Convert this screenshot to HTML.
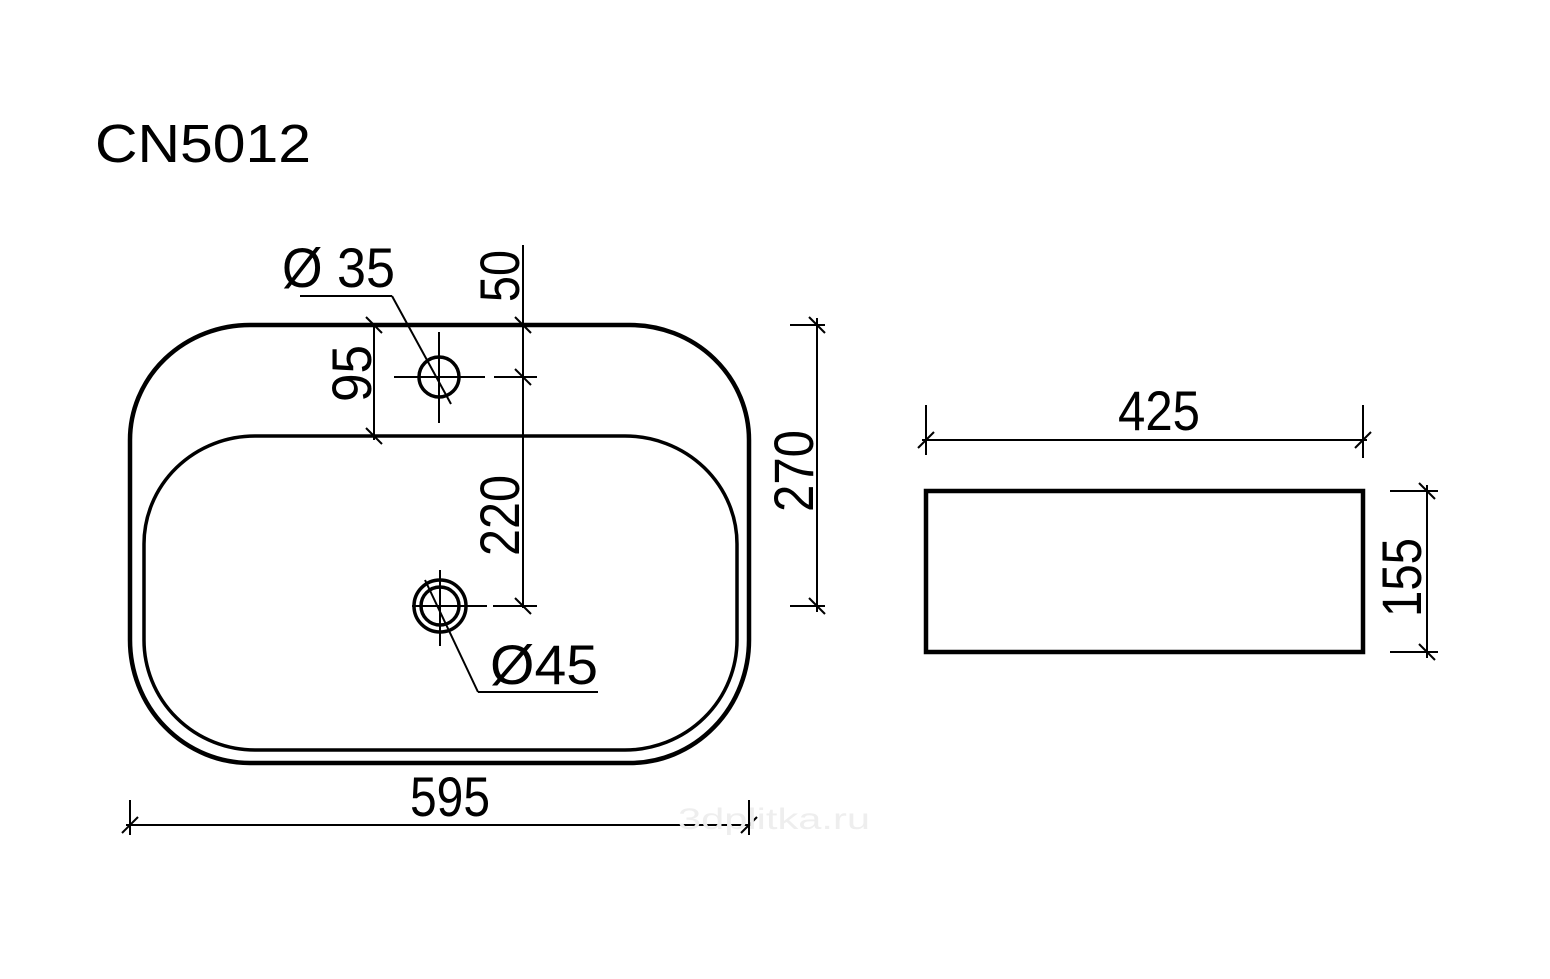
<!DOCTYPE html>
<html><head><meta charset="utf-8"><style>
html,body{margin:0;padding:0;background:#fff;}
svg{display:block}
text{font-family:"Liberation Sans Narrow","Liberation Sans",sans-serif;fill:#000;}
</style></head><body>
<svg width="1550" height="979" viewBox="0 0 1550 979" xmlns="http://www.w3.org/2000/svg">
<text x="95" y="162" font-size="54" style="font-family:'Liberation Sans',sans-serif" textLength="216" lengthAdjust="spacingAndGlyphs">CN5012</text>
<g fill="none" stroke="#000">
<path d="M250 325 H630 A119 115 0 0 1 749 440 V640 A119 123 0 0 1 630 763 H250 A120 123 0 0 1 130 640 V440 A120 115 0 0 1 250 325 Z" stroke-width="4.5"/>
<path d="M255 436 H625 A112 108 0 0 1 737 544 V640 A112 110 0 0 1 625 750 H255 A111 110 0 0 1 144 640 V544 A111 108 0 0 1 255 436 Z" stroke-width="3.5"/>
<circle cx="439" cy="377" r="20" stroke-width="3.5"/>
<circle cx="440" cy="606" r="26" stroke-width="3.5"/>
<circle cx="440" cy="606" r="19" stroke-width="3.5"/>
<g stroke-width="2">
<line x1="394" y1="377" x2="485" y2="377"/><line x1="494" y1="377" x2="537" y2="377"/>
<line x1="439" y1="332" x2="439" y2="423"/>
<line x1="412" y1="606" x2="487" y2="606"/><line x1="493" y1="606" x2="537" y2="606"/>
<line x1="440" y1="570" x2="440" y2="646"/>
<line x1="523" y1="245" x2="523" y2="608"/>
<line x1="374" y1="325" x2="374" y2="440"/>
<line x1="300" y1="296" x2="392" y2="296"/><line x1="392" y1="296" x2="451" y2="404"/>
<line x1="425" y1="580" x2="478" y2="692"/><line x1="478" y1="692" x2="598" y2="692"/>
<line x1="817" y1="318" x2="817" y2="612"/><line x1="790" y1="325" x2="825" y2="325"/><line x1="790" y1="606" x2="825" y2="606"/>
<line x1="126" y1="825" x2="753" y2="825"/><line x1="130" y1="800" x2="130" y2="835"/><line x1="749" y1="800" x2="749" y2="835"/>
<line x1="922" y1="440" x2="1367" y2="440"/><line x1="926" y1="405" x2="926" y2="455"/><line x1="1363" y1="405" x2="1363" y2="458"/>
<line x1="1427" y1="485" x2="1427" y2="658"/><line x1="1390" y1="491" x2="1438" y2="491"/><line x1="1390" y1="652" x2="1438" y2="652"/>
<line x1="515" y1="317" x2="531" y2="333"/><line x1="515" y1="369" x2="531" y2="385"/><line x1="515" y1="598" x2="531" y2="614"/>
<line x1="366" y1="317" x2="382" y2="333"/><line x1="366" y1="428" x2="382" y2="444"/>
<line x1="809" y1="317" x2="825" y2="333"/><line x1="809" y1="598" x2="825" y2="614"/>
<line x1="122" y1="833" x2="138" y2="817"/><line x1="741" y1="833" x2="757" y2="817"/>
<line x1="918" y1="448" x2="934" y2="432"/><line x1="1355" y1="448" x2="1371" y2="432"/>
<line x1="1419" y1="483" x2="1435" y2="499"/><line x1="1419" y1="644" x2="1435" y2="660"/>
</g>
<rect x="926" y="491" width="437" height="161" stroke-width="4.5"/>
</g>
<g font-size="56">
<text x="282" y="287" textLength="113" lengthAdjust="spacingAndGlyphs">Ø 35</text>
<text x="490" y="684" textLength="108" lengthAdjust="spacingAndGlyphs">Ø45</text>
<text x="410" y="816" textLength="80" lengthAdjust="spacingAndGlyphs">595</text>
<text x="1118" y="430" textLength="82" lengthAdjust="spacingAndGlyphs">425</text>
<text transform="translate(519,302) rotate(-90)" textLength="52" lengthAdjust="spacingAndGlyphs">50</text>
<text transform="translate(519,556) rotate(-90)" textLength="81" lengthAdjust="spacingAndGlyphs">220</text>
<text transform="translate(371,402) rotate(-90)" textLength="57" lengthAdjust="spacingAndGlyphs">95</text>
<text transform="translate(813,512) rotate(-90)" textLength="82" lengthAdjust="spacingAndGlyphs">270</text>
<text transform="translate(1421,617) rotate(-90)" textLength="79" lengthAdjust="spacingAndGlyphs">155</text>
</g>
<text x="678" y="829" font-size="30" style="fill:#eee" textLength="192" lengthAdjust="spacingAndGlyphs">3dplitka.ru</text>
</svg>
</body></html>
